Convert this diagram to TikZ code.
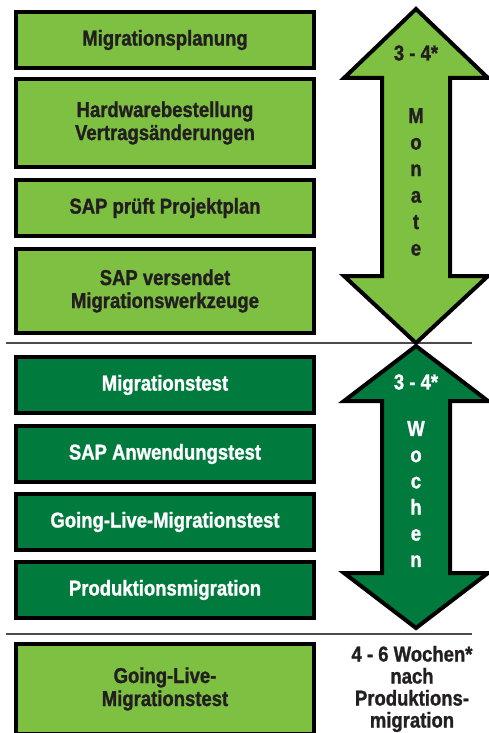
\documentclass[tikz,border=0pt]{standalone}
\usepackage{fontspec}
\setmainfont{Liberation Sans}[FakeStretch=0.86, BoldFeatures={FakeBold=1.2}]
\usepackage{xcolor}
\usepackage{tikz}
\usetikzlibrary{positioning}
\definecolor{phaselight}{RGB}{125,192,66}
\definecolor{phasedark}{RGB}{0,122,61}
\definecolor{inkdark}{RGB}{35,31,32}
\tikzset{
    phase/.style={rectangle, draw=black, line width=4pt, minimum width=298pt, minimum height=56pt, text centered, align=center, font=\bfseries\fontsize{21.5}{23}\selectfont},
    lightphase/.style={phase, fill=phaselight, text=inkdark},
    darkphase/.style={phase, fill=phasedark, text=white},
    span/.style={draw=black, line width=4pt, miter limit=10},
    spanlabel/.style={align=center, font=\bfseries\fontsize{21.5}{26.5}\selectfont},
    divider/.style={draw=black!70, line width=1.5pt}
}
\begin{document}
\begin{tikzpicture}[
    x=1pt, y=1pt,
    node distance=9pt
]
    \useasboundingbox (0,0) rectangle (488,-733);

    % Dividers
    \coordinate (div1a) at (6,-343);
    \coordinate (div1b) at (472,-343);
    \coordinate (div2a) at (6,-634);
    \coordinate (div2b) at (472,-634);
    \draw[divider] (div1a) -- (div1b);
    \draw[divider] (div2a) -- (div2b);

    % Preparation phase
    \node[lightphase] at (165,-40) (planning) {Migrationsplanung};
    \node[lightphase, minimum height=88pt, below=7pt of planning] (hardware) {Hardwarebestellung\\Vertrags\"anderungen};
    \node[lightphase, below=of hardware] (review) {SAP pr\"uft Projektplan};
    \node[lightphase, minimum height=84pt, below=of review] (tools) {SAP versendet\\Migrationswerkzeuge};

    % Test phase
    \node[darkphase, below=20pt of tools] (migtest) {Migrationstest};
    \node[darkphase, below=of migtest] (apptest) {SAP Anwendungstest};
    \node[darkphase, below=8pt of apptest] (golivetest) {Going-Live-Migrationstest};
    \node[darkphase, below=8pt of golivetest] (prodmig) {Produktionsmigration};

    % After production
    \node[lightphase, minimum height=90pt, below=22pt of prodmig] (golivecheck) {Going-Live-\\Migrationstest};

    % Duration arrows
    \draw[span, fill=phaselight] (416,-9) -- (488,-78) -- (450,-78) -- (450,-276) -- (488,-276)
        -- (416,-343) -- (344,-276) -- (382,-276) -- (382,-78) -- (344,-78) -- cycle;
    \draw[span, fill=phasedark] (416,-346) -- (488,-401) -- (450,-401) -- (450,-573) -- (488,-573)
        -- (416,-628) -- (344,-573) -- (382,-573) -- (382,-401) -- (344,-401) -- cycle;

    \node[spanlabel, text=inkdark] at (416,-53) (monthsnum) {3 - 4*};
    \node[spanlabel, text=inkdark] at (416,-182) (months) {M\\o\\n\\a\\t\\e};
    \node[spanlabel, text=white] at (416,-382) (weeksnum) {3 - 4*};
    \node[spanlabel, text=white, font=\bfseries\fontsize{21.5}{26.2}\selectfont] at (416,-494) (weeks) {W\\o\\c\\h\\e\\n};

    \node[spanlabel, text=inkdark, font=\bfseries\fontsize{21.5}{22}\selectfont] at (412,-689) (afterprod) {4 - 6 Wochen*\\nach\\Produktions-\\migration};
\end{tikzpicture}
\end{document}
